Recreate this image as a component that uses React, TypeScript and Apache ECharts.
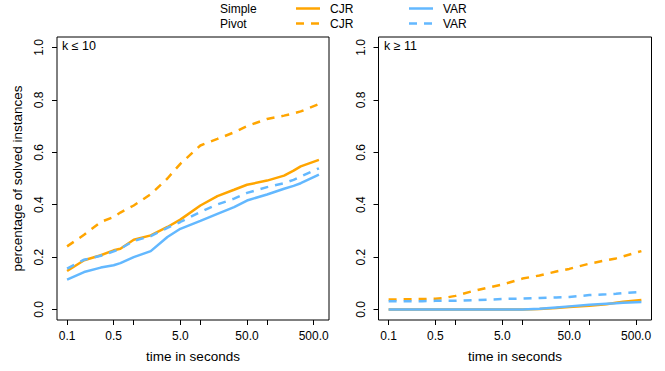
import React, { useEffect, useRef } from "react";
import * as echarts from "echarts";

// time grid (seconds)
const TIME = [0.1, 0.18, 0.32, 0.5, 0.63, 1, 1.8, 3.2, 5, 10, 18, 32, 50, 100, 180, 250, 320, 600];

// Panel 1: k <= 10
const P1_SIMPLE_CJR = [0.147, 0.188, 0.207, 0.226, 0.232, 0.266, 0.283, 0.315, 0.343, 0.397, 0.433, 0.457, 0.476, 0.492, 0.511, 0.53, 0.546, 0.571];
const P1_PIVOT_CJR = [0.241, 0.285, 0.334, 0.353, 0.37, 0.397, 0.44, 0.5, 0.556, 0.626, 0.651, 0.676, 0.7, 0.727, 0.74, 0.748, 0.756, 0.784];
const P1_SIMPLE_VAR = [0.114, 0.143, 0.16, 0.169, 0.177, 0.2, 0.223, 0.277, 0.308, 0.338, 0.365, 0.391, 0.416, 0.439, 0.461, 0.472, 0.482, 0.515];
const P1_PIVOT_VAR = [0.156, 0.19, 0.205, 0.222, 0.232, 0.262, 0.28, 0.312, 0.334, 0.372, 0.401, 0.423, 0.445, 0.467, 0.482, 0.495, 0.508, 0.539];

// Panel 2: k >= 11
const P2_SIMPLE_CJR = [0, 0, 0, 0, 0, 0, 0, 0, 0, 0, 0.002, 0.006, 0.01, 0.014, 0.02, 0.026, 0.03, 0.036];
const P2_PIVOT_CJR = [0.038, 0.039, 0.04, 0.041, 0.043, 0.052, 0.07, 0.085, 0.095, 0.118, 0.13, 0.145, 0.155, 0.175, 0.188, 0.195, 0.203, 0.223];
const P2_SIMPLE_VAR = [0, 0, 0, 0, 0, 0, 0, 0, 0, 0, 0.003, 0.008, 0.012, 0.018, 0.022, 0.024, 0.026, 0.029];
const P2_PIVOT_VAR = [0.032, 0.032, 0.032, 0.033, 0.033, 0.033, 0.036, 0.038, 0.04, 0.042, 0.044, 0.046, 0.048, 0.055, 0.058, 0.06, 0.063, 0.067];

const X_TICKS = [0.1, 0.5, 1, 5, 10, 50, 100, 500];
const X_LABELS = [0.1, 0.5, 5, 50, 500];
const Y_TICKS = [0, 0.2, 0.4, 0.6, 0.8, 1.0];

const ORANGE = "#FFA500";
const BLUE = "#63B8FF";
const FONT = "Liberation Sans, Arial, Helvetica, sans-serif";
const DASH = [8, 7];

export default function App() {
  const ref = useRef<HTMLDivElement>(null);
  useEffect(() => {
    document.body.style.margin = "0";
    const chart = echarts.init(ref.current!, null, { renderer: "svg" });
    const lg = Math.log10;
    const xMinData = lg(TIME[0]);
    const xMaxData = lg(TIME[TIME.length - 1]);
    const span = xMaxData - xMinData;
    const xMin = xMinData - 0.04 * span;
    const xMax = xMaxData + 0.04 * span;

    const xAxis = (gi: number, withName: boolean) => ({
      type: "value",
      gridIndex: gi,
      min: xMin,
      max: xMax,
      position: "bottom",
      axisLine: { show: false, onZero: false },
      splitLine: { show: false },
      axisTick: {
        show: true,
        inside: false,
        length: 5,
        customValues: X_TICKS.map(lg),
        lineStyle: { color: "#000", width: 1 },
      },
      axisLabel: {
        customValues: X_LABELS.map(lg),
        formatter: (v: number) => Math.pow(10, v).toFixed(1),
        color: "#000",
        fontSize: 12,
        fontFamily: FONT,
        margin: 10,
      },
      name: withName ? "time in seconds" : "",
      nameLocation: "middle",
      nameGap: 29,
      nameTextStyle: { color: "#000", fontSize: 13.5, fontFamily: FONT },
    });
    const yAxis = (gi: number, withName: boolean) => ({
      type: "value",
      gridIndex: gi,
      min: -0.04,
      max: 1.04,
      position: "left",
      axisLine: { show: false, onZero: false },
      splitLine: { show: false },
      axisTick: {
        show: true,
        inside: false,
        length: 5,
        customValues: Y_TICKS,
        lineStyle: { color: "#000", width: 1 },
      },
      axisLabel: {
        customValues: Y_TICKS,
        formatter: (v: number) => v.toFixed(1),
        rotate: 90,
        color: "#000",
        fontSize: 12,
        fontFamily: FONT,
        margin: 12,
      },
      name: withName ? "percentage of solved instances" : "",
      nameLocation: "middle",
      nameGap: 33,
      nameTextStyle: { color: "#000", fontSize: 13.5, fontFamily: FONT },
    });

    const mk = (name: string, data: number[], gi: number, color: string, dashed: boolean) => ({
      type: "line",
      name,
      xAxisIndex: gi,
      yAxisIndex: gi,
      data: TIME.map((t, i) => [lg(t), data[i]]),
      showSymbol: false,
      symbol: "none",
      smooth: false,
      lineStyle: { color, width: 2.5, type: dashed ? DASH : "solid" },
      z: 2,
    });

    const legendLine = (x1: number, y: number, color: string, dashed: boolean) => ({
      type: "line",
      shape: { x1, y1: y, x2: x1 + 24, y2: y },
      style: { stroke: color, lineWidth: 2.5, lineDash: dashed ? DASH : null },
    });
    const txt = (x: number, y: number, text: string, size = 12) => ({
      type: "text",
      x,
      y,
      style: { text, fill: "#000", fontSize: size, fontFamily: FONT, textAlign: "left", textVerticalAlign: "middle" },
    });

    chart.setOption({
      animation: false,
      backgroundColor: "#fff",
      grid: [
        { left: 57, top: 37, width: 272, height: 283, show: true, borderColor: "#000", borderWidth: 1, backgroundColor: "transparent" },
        { left: 378.5, top: 37, width: 273, height: 283, show: true, borderColor: "#000", borderWidth: 1, backgroundColor: "transparent" },
      ],
      xAxis: [xAxis(0, true), xAxis(1, true)],
      yAxis: [yAxis(0, true), yAxis(1, false)],
      series: [
        mk("Simple CJR", P1_SIMPLE_CJR, 0, ORANGE, false),
        mk("Pivot CJR", P1_PIVOT_CJR, 0, ORANGE, true),
        mk("Simple VAR", P1_SIMPLE_VAR, 0, BLUE, false),
        mk("Pivot VAR", P1_PIVOT_VAR, 0, BLUE, true),
        mk("Simple CJR", P2_SIMPLE_CJR, 1, ORANGE, false),
        mk("Pivot CJR", P2_PIVOT_CJR, 1, ORANGE, true),
        mk("Simple VAR", P2_SIMPLE_VAR, 1, BLUE, false),
        mk("Pivot VAR", P2_PIVOT_VAR, 1, BLUE, true),
      ],
      graphic: [
        txt(220, 8.5, "Simple"),
        txt(220, 23.5, "Pivot"),
        legendLine(296, 8.5, ORANGE, false),
        legendLine(296, 23.5, ORANGE, true),
        txt(330, 8.5, "CJR"),
        txt(330, 23.5, "CJR"),
        legendLine(409, 8.5, BLUE, false),
        legendLine(409, 23.5, BLUE, true),
        txt(443, 8.5, "VAR"),
        txt(443, 23.5, "VAR"),
        txt(62, 46, "k \u2264 10", 12.5),
        txt(384, 46, "k \u2265 11", 12.5),
      ],
    });
    return () => chart.dispose();
  }, []);
  return <div ref={ref} style={{ position: "fixed", left: 0, top: 0, width: 665, height: 371 }} />;
}
